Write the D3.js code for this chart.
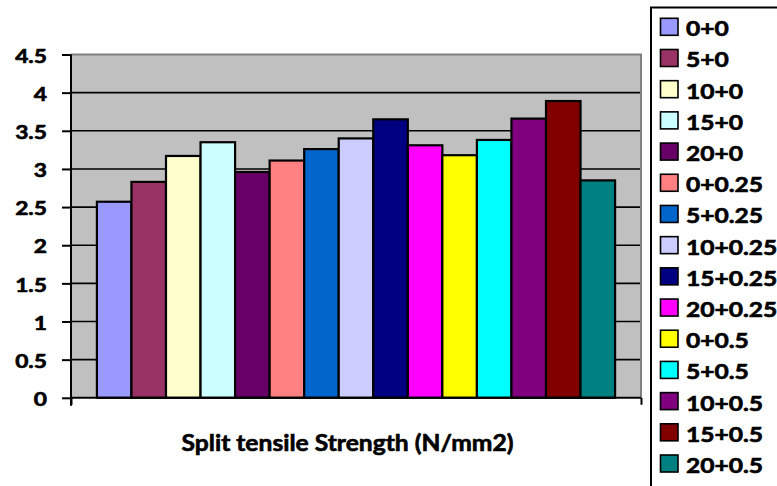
<!DOCTYPE html>
<html>
<head>
<meta charset="utf-8">
<script src="https://cdn.jsdelivr.net/npm/d3@7"></script>
<style>
  html, body { margin: 0; padding: 0; background: #fff; }
  text { font-family: Lato, "Noto Sans", sans-serif; font-weight: bold; fill: #000; stroke: #000; stroke-width: 0.6px; }
</style>
</head>
<body>
<svg id="chart" width="777" height="486"></svg>
<script>
const categories = ["0+0","5+0","10+0","15+0","20+0","0+0.25","5+0.25","10+0.25","15+0.25","20+0.25","0+0.5","5+0.5","10+0.5","15+0.5","20+0.5"];
const values = [2.57, 2.83, 3.17, 3.35, 2.96, 3.11, 3.26, 3.40, 3.65, 3.31, 3.18, 3.38, 3.66, 3.89, 2.85];
const colors = ["#9999FF","#993366","#FFFFCC","#CCFFFF","#660066","#FF8080","#0066CC","#CCCCFF","#000080","#FF00FF","#FFFF00","#00FFFF","#800080","#800000","#008080"];
const yTicks = [0, 0.5, 1, 1.5, 2, 2.5, 3, 3.5, 4, 4.5];
const yTickLabels = ["0","0.5","1","1.5","2","2.5","3","3.5","4","4.5"];
const xTitle = "Split tensile Strength (N/mm2)";

const svg = d3.select("#chart");
const plot = { left: 71, right: 641, top: 54.5, bottom: 397.8 };
const stretch = 1.2;

const x = d3.scaleBand().domain(categories).range([plot.left, plot.right]).paddingInner(0).paddingOuter(0.75);
const y = d3.scaleLinear().domain([0, 4.5]).range([plot.bottom, plot.top]);

// plot background
svg.append("rect")
  .attr("x", plot.left).attr("y", plot.top)
  .attr("width", plot.right - plot.left).attr("height", plot.bottom - plot.top)
  .attr("fill", "#C0C0C0");

// gridlines
svg.append("g").selectAll("line").data(yTicks.filter(d => d > 0 && d < 4.5)).join("line")
  .attr("x1", plot.left).attr("x2", plot.right)
  .attr("y1", d => y(d)).attr("y2", d => y(d))
  .attr("stroke", "#000").attr("stroke-width", 1.6);

// plot border top/right (gray)
svg.append("path")
  .attr("d", `M${plot.left},${plot.top}H${plot.right}V${plot.bottom}`)
  .attr("fill", "none").attr("stroke", "#808080").attr("stroke-width", 2);

// bars
svg.append("g").selectAll("rect").data(values).join("rect")
  .attr("x", (d, i) => x(categories[i]))
  .attr("y", d => y(d))
  .attr("width", x.bandwidth())
  .attr("height", d => y(0) - y(d))
  .attr("fill", (d, i) => colors[i])
  .attr("stroke", "#000").attr("stroke-width", 2.2);

// y axis
const yAxis = d3.axisLeft(y).tickValues(yTicks).tickSize(9).tickPadding(15)
  .tickFormat((d, i) => yTickLabels[i]);
const gy = svg.append("g").attr("transform", `translate(${plot.left},0)`).call(yAxis);
gy.select(".domain").attr("stroke", "#000").attr("stroke-width", 2)
  .attr("d", `M0,${plot.top}V${plot.bottom + 8}`);
gy.selectAll(".tick line").attr("stroke", "#000").attr("stroke-width", 2);
gy.selectAll(".tick text").each(function() {
  const t = d3.select(this);
  const xx = +t.attr("x");
  t.attr("x", 0).attr("dy", null).attr("y", 0)
   .attr("dominant-baseline", "central")
   .attr("transform", `translate(${xx},0) scale(${stretch},1)`);
}).style("font-family", "Lato, sans-serif").style("font-weight", "bold").style("font-size", "19px");

// x axis
const xEdge = d3.scaleLinear().domain([0, 1]).range([plot.left, plot.right]);
const xAxis = d3.axisBottom(xEdge).tickValues([0, 1]).tickSize(7).tickFormat("");
const gx = svg.append("g").attr("transform", `translate(0,${plot.bottom})`).call(xAxis);
gx.select(".domain").attr("stroke", "#000").attr("stroke-width", 2).attr("d", `M${plot.left},0H${plot.right}`);
gx.selectAll(".tick line").attr("stroke", "#000").attr("stroke-width", 2);

// x title
svg.append("text")
  .attr("transform", `translate(347.5,450.7) scale(1.12,1)`)
  .attr("text-anchor", "middle")
  .style("font-size", "22px")
  .text(xTitle);

// legend
const lg = svg.append("g");
lg.append("rect").attr("x", 651).attr("y", 7.5).attr("width", 160).attr("height", 500)
  .attr("fill", "#fff").attr("stroke", "#000").attr("stroke-width", 2);
const rowY = d3.scaleLinear().domain([0, 14]).range([18.3, 455]);
const items = lg.selectAll("g.item").data(categories).join("g").attr("class", "item")
  .attr("transform", (d, i) => `translate(0,${rowY(i)})`);
items.append("rect").attr("x", 660.5).attr("y", 0).attr("width", 17.5).attr("height", 17)
  .attr("fill", (d, i) => colors[i]).attr("stroke", "#000").attr("stroke-width", 1.6);
items.append("text")
  .attr("transform", `translate(686,18) scale(${stretch},1)`)
  .style("font-size", "20.5px")
  .text(d => d);
</script>
</body>
</html>
